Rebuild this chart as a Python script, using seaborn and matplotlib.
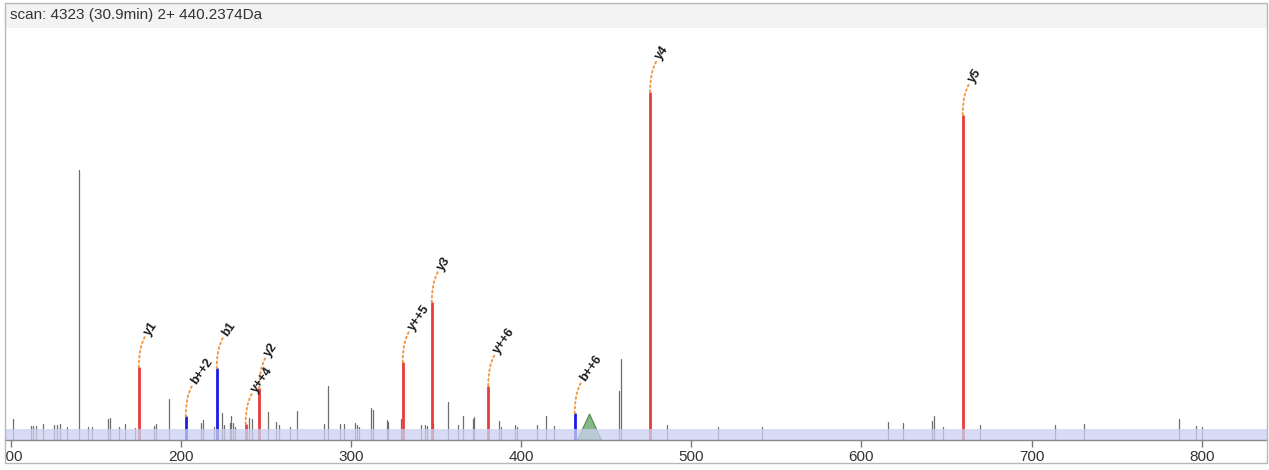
import pandas as pd
import matplotlib.pyplot as plt
from matplotlib.patches import Rectangle
import seaborn as sns

# header
scan_title = 'scan: 4323 (30.9min) 2+ 440.2374Da'

# precursor marker
precursor_mz = 440.2374
precursor_int = 7.5
precursor_halfwidth = 7.0

# annotated fragment ions (relative intensity, % of base peak)
ion_labels = ['y1', 'b++2', 'b1', 'y++4', 'y2', 'y++5', 'y3', 'y++6', 'b++6', 'y4', 'y5']
ion_mz = [175.3, 202.9, 221.1, 238.1, 246.1, 330.4, 347.5, 380.7, 431.5, 475.8, 659.5]
ion_int = [20.7, 6.5, 20.4, 4.3, 14.6, 22.1, 39.4, 15.4, 7.4, 100.0, 93.4]
ion_kind = ['y', 'b', 'b', 'y', 'y', 'y', 'y', 'y', 'b', 'y', 'y']

# unannotated peaks
noise_mz = [101.2, 112.0, 113.3, 114.9, 118.8, 125.7, 127.4, 129.2, 132.9, 140.2,
            145.6, 147.6, 157.0, 158.4, 163.9, 167.2, 173.1, 184.4, 185.4, 193.2,
            212.0, 213.2, 219.7, 224.2, 225.4, 228.9, 229.7, 230.9, 232.0, 240.3,
            242.0, 251.1, 256.0, 257.9, 264.2, 268.1, 284.2, 286.3, 293.6, 296.1,
            302.4, 303.7, 304.9, 312.0, 313.1, 321.4, 322.0, 329.6, 341.2, 343.5,
            344.5, 348.4, 357.2, 363.1, 365.7, 371.6, 372.5, 387.2, 388.2, 396.4,
            397.4, 409.5, 414.5, 419.5, 457.5, 458.5, 485.6, 515.5, 541.4, 615.8,
            624.6, 641.7, 642.7, 648.1, 669.7, 713.8, 730.8, 786.8, 796.5, 800.0]
noise_int = [6.0, 4.1, 4.0, 4.0, 4.7, 4.3, 4.3, 4.5, 3.8, 77.8,
             3.8, 3.8, 6.0, 6.4, 3.8, 4.5, 3.5, 4.1, 4.6, 11.7,
             4.8, 5.7, 3.7, 7.9, 4.3, 4.8, 7.0, 4.9, 3.7, 6.4,
             6.0, 8.1, 5.1, 4.3, 3.8, 8.4, 4.6, 15.6, 4.5, 4.5,
             4.8, 4.3, 3.8, 9.3, 8.6, 5.8, 5.2, 6.0, 4.3, 4.3,
             4.1, 4.8, 10.9, 4.3, 6.9, 6.1, 6.5, 5.6, 3.7, 4.3,
             3.7, 4.3, 6.9, 4.0, 14.2, 23.3, 4.3, 3.7, 3.8, 5.1,
             4.8, 5.5, 7.0, 3.8, 4.3, 4.3, 4.6, 6.1, 4.0, 3.8]

xticks = [100, 200, 300, 400, 500, 600, 700, 800]
x_range = (96.4, 838.4)
y_top = 118.7
band_top = 3.2

W, H = 1269, 470
RED, BLUE, GREY = '#e63c3c', '#1c1ce6', '#6e6e6e'
ORANGE = '#f29a4a'


def stems(mz, inten, kind):
    rows = []
    for i, (m, v, k) in enumerate(zip(mz, inten, kind)):
        rows.append((f'p{i}', m, 0.0, k))
        rows.append((f'p{i}', m, v, k))
    return pd.DataFrame(rows, columns=['peak', 'mz', 'intensity', 'kind'])


noise_df = stems(noise_mz, noise_int, ['n'] * len(noise_mz))
ion_df = stems(ion_mz, ion_int, ion_kind)

sns.set_theme(style='white')
plt.rcParams['font.family'] = ['Liberation Sans', 'DejaVu Sans']

fig = plt.figure(figsize=(W / 100, H / 100), dpi=100)
fig.patch.set_facecolor('white')
ax = fig.add_axes([4.5 / W, (H - 440) / H, 1262.5 / W, 412 / H])

sns.lineplot(data=noise_df, x='mz', y='intensity', units='peak', estimator=None,
             sort=False, color=GREY, lw=0.9, legend=False, ax=ax)
sns.lineplot(data=ion_df, x='mz', y='intensity', units='peak', estimator=None,
             sort=False, hue='kind', palette={'y': RED, 'b': BLUE}, lw=2.0,
             legend=False, ax=ax)

# precursor triangle and baseline band
ax.fill([precursor_mz - precursor_halfwidth, precursor_mz, precursor_mz + precursor_halfwidth],
        [0, precursor_int, 0], fc='#72ad72', ec='#3f7d3f', lw=0.8, alpha=0.85, zorder=2.5)
ax.axhspan(0, band_top, color='#cbd0f2', alpha=0.75, lw=0, zorder=3)

ax.set_xlim(*x_range)
ax.set_ylim(0, y_top)

# labels with dotted leaders
for lbl, m, v in zip(ion_labels, ion_mz, ion_int):
    ax.annotate('', xy=(m, v), xytext=(6, 31), textcoords='offset pixels',
                arrowprops=dict(arrowstyle='-', color=ORANGE, lw=1.4, linestyle=(0, (0.9, 1.6)),
                                connectionstyle='angle3,angleA=60,angleB=90',
                                shrinkA=0, shrinkB=0), zorder=5)
    ax.annotate(lbl, xy=(m, v), xytext=(8, 34), textcoords='offset pixels',
                rotation=55, rotation_mode='anchor', ha='left', va='center',
                fontsize=9, fontweight='bold', color='#1a1a1a', zorder=6)

ax.set_xlabel('')
ax.set_ylabel('')
ax.set_yticks([])
ax.set_xticks(xticks)
ax.set_xticklabels([str(t) for t in xticks])
ax.tick_params(axis='x', bottom=True, direction='out', length=5, width=1,
               color='#777777', labelsize=11, labelcolor='#333333', pad=2)
for s in ['left', 'right', 'top']:
    ax.spines[s].set_visible(False)
ax.spines['bottom'].set_color('#888888')
ax.spines['bottom'].set_linewidth(1)
ax.spines['bottom'].set_zorder(4)
ax.patch.set_alpha(0)

# outer frame and header strip
frame = Rectangle((4.5 / W, (H - 463) / H), 1262 / W, 460 / H, transform=fig.transFigure,
                  fill=False, ec='#b8b8b8', lw=1, zorder=10)
fig.add_artist(frame)
fig.add_artist(Rectangle((4.5 / W, (H - 28) / H), 1262 / W, 25 / H, transform=fig.transFigure,
                         fc='#f3f3f3', ec='none', zorder=0))
fig.text(10 / W, 1 - 15.5 / H, scan_title, fontsize=11, color='#333333', va='center', ha='left')

for t in ax.xaxis.get_major_ticks():
    t.label1.set_clip_path(frame)

fig.savefig('out.png', dpi=100)
